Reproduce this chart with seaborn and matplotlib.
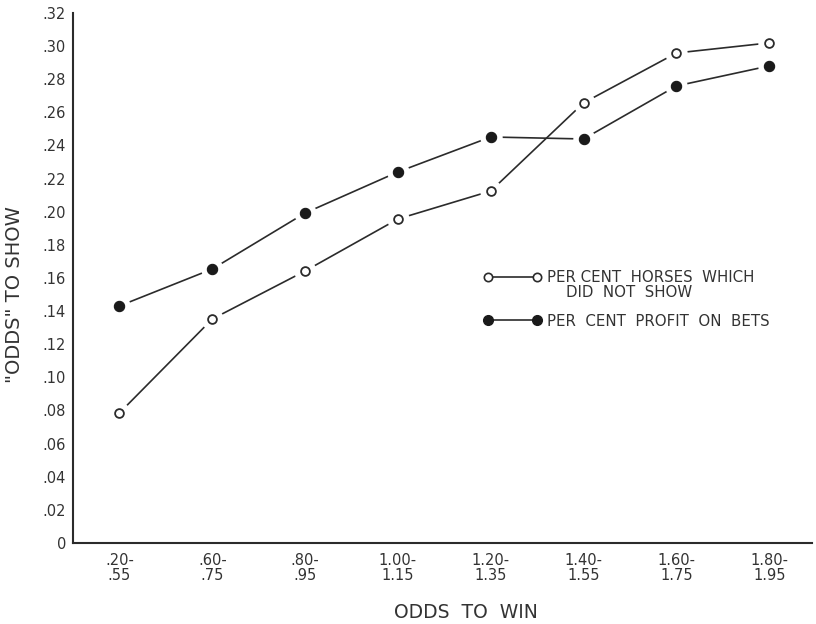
import matplotlib
matplotlib.use("Agg")
import matplotlib.pyplot as plt
from matplotlib.lines import Line2D
import seaborn as sns
import pandas as pd

# Odds-to-win brackets (two-line tick labels)
odds_to_win = [".20-\n.55", ".60-\n.75", ".80-\n.95", "1.00-\n1.15",
               "1.20-\n1.35", "1.40-\n1.55", "1.60-\n1.75", "1.80-\n1.95"]

# "Odds" to show for each bracket
pct_did_not_show = [0.0785, 0.1352, 0.1642, 0.1956, 0.2125, 0.2657, 0.2958, 0.3019]
pct_profit_on_bets = [0.1431, 0.1654, 0.1992, 0.2240, 0.2451, 0.2439, 0.2759, 0.2880]

y_ticks = [0.00, 0.02, 0.04, 0.06, 0.08, 0.10, 0.12, 0.14, 0.16,
           0.18, 0.20, 0.22, 0.24, 0.26, 0.28, 0.30, 0.32]
y_tick_labels = ["0", ".02", ".04", ".06", ".08", ".10", ".12", ".14", ".16",
                 ".18", ".20", ".22", ".24", ".26", ".28", ".30", ".32"]

label_not_show = "PER CENT  HORSES  WHICH"
label_not_show_2 = "DID  NOT  SHOW"
label_profit = "PER  CENT  PROFIT  ON  BETS"

df = pd.DataFrame({
    "pos": list(range(len(odds_to_win))) * 2,
    "value": pct_did_not_show + pct_profit_on_bets,
    "series": ["not_show"] * len(odds_to_win) + ["profit"] * len(odds_to_win),
})

sns.set_theme(style="white")
plt.rcParams["font.family"] = ["DejaVu Sans"]

INK = "#2b2b2b"
TEXT = "#333333"

fig = plt.figure(figsize=(8.16, 6.24), dpi=100)
ax = fig.add_axes([0.0895, 0.1298, 0.9055, 0.8495])

# connecting lines
sns.lineplot(data=df, x="pos", y="value", units="series", estimator=None,
             color=INK, linewidth=1.2, ax=ax, legend=False)
for ln in ax.lines:
    ln.set_zorder(2)

# white discs over the line ends leave a gap around every point
n_before = len(ax.collections)
sns.scatterplot(data=df, x="pos", y="value", s=260, color="white",
                edgecolor="white", linewidth=0, ax=ax, legend=False)
for coll in ax.collections[n_before:]:
    coll.set_zorder(3)
    coll.set_facecolor("white")
    coll.set_edgecolor("white")

open_pts = df[df["series"] == "not_show"]
filled_pts = df[df["series"] == "profit"]
n_before = len(ax.collections)
sns.scatterplot(data=open_pts, x="pos", y="value", s=40, color="white",
                edgecolor=INK, linewidth=1.3, ax=ax, legend=False)
sns.scatterplot(data=filled_pts, x="pos", y="value", s=55, color="#1a1a1a",
                edgecolor="#1a1a1a", linewidth=0.8, ax=ax, legend=False)
for coll in ax.collections[n_before:]:
    coll.set_zorder(4)

ax.set_xlim(-0.5, 7.46)
ax.set_ylim(0, 0.32)
ax.set_xticks(range(len(odds_to_win)))
ax.set_xticklabels(odds_to_win, fontsize=10.5, color=TEXT, linespacing=1.05)
ax.set_yticks(y_ticks)
ax.set_yticklabels(y_tick_labels, fontsize=10.5, color=TEXT)

ax.tick_params(axis="x", direction="in", length=4, width=1, color=INK, pad=7)
ax.tick_params(axis="y", direction="out", length=3, width=1, color=INK, pad=2)

for side in ("top", "right"):
    ax.spines[side].set_visible(False)
for side in ("left", "bottom"):
    ax.spines[side].set_color(INK)
    ax.spines[side].set_linewidth(1.5)

ax.set_xlabel("ODDS  TO  WIN", fontsize=13.5, color=TEXT)
ax.xaxis.set_label_coords(0.532, -0.113)
ax.set_ylabel('"ODDS" TO SHOW', fontsize=14, color=TEXT)
ax.yaxis.set_label_coords(-0.066, 0.468)

handles = [
    Line2D([], [], color=INK, linewidth=1.2, marker="o", markersize=6,
           markerfacecolor="white", markeredgecolor=INK, markeredgewidth=1.2),
    Line2D([], [], color=INK, linewidth=1.2, marker="o", markersize=7,
           markerfacecolor="#1a1a1a", markeredgecolor="#1a1a1a"),
]
ax.legend(handles, [label_not_show, label_profit], loc="upper left",
          bbox_to_anchor=(0.555, 0.515), frameon=False, numpoints=2,
          handlelength=3.9, handletextpad=0.35, borderpad=0, borderaxespad=0,
          labelspacing=1.9, fontsize=10.8, labelcolor=TEXT)
ax.text(0.667, 0.4717, label_not_show_2, transform=ax.transAxes,
        fontsize=10.8, color=TEXT, ha="left", va="center")

fig.savefig("out.png", dpi=100, facecolor="white")
